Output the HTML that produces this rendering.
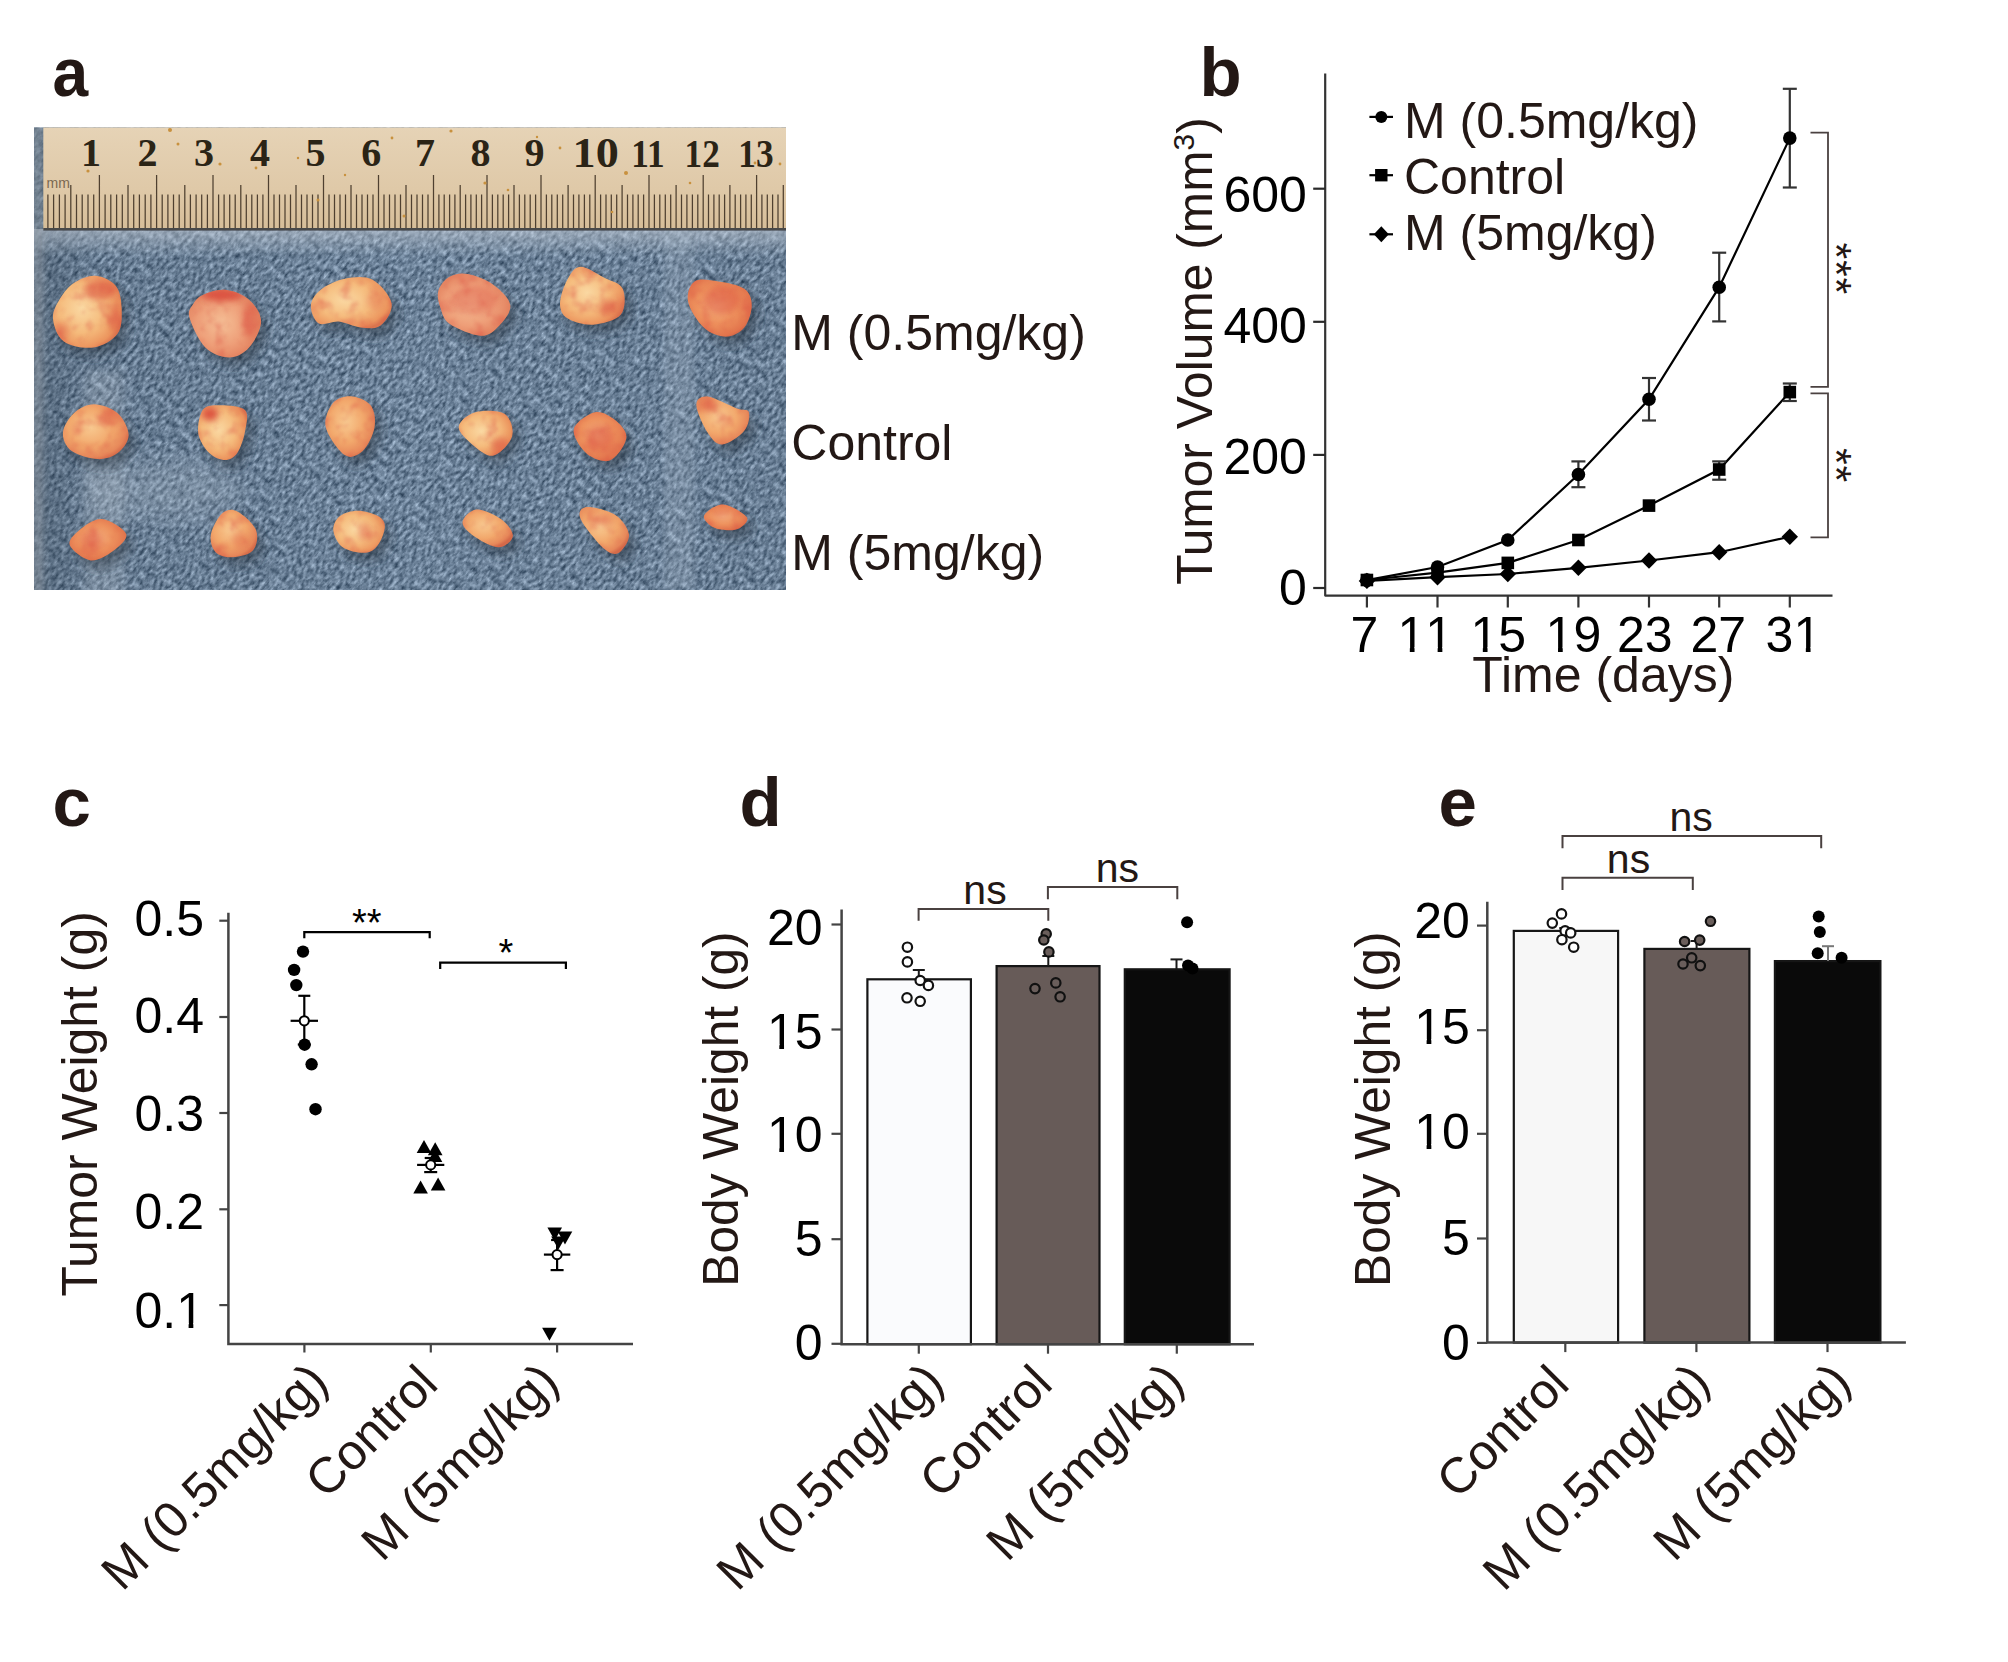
<!DOCTYPE html>
<html><head><meta charset="utf-8"><title>Figure</title>
<style>html,body{margin:0;padding:0;background:#fff;overflow:hidden;width:2008px;height:1662px;} svg{display:block;}</style>
</head><body>
<svg width="2008" height="1662" viewBox="0 0 2008 1662">
<rect width="2008" height="1662" fill="#fff"/>

<defs>
  <linearGradient id="ruler" x1="0" y1="0" x2="0" y2="1">
    <stop offset="0" stop-color="#e6d3b6"/>
    <stop offset="0.6" stop-color="#dfc9a8"/>
    <stop offset="1" stop-color="#d6bd98"/>
  </linearGradient>
  <linearGradient id="clothshade" x1="0" y1="0" x2="1" y2="0">
    <stop offset="0" stop-color="#2c3a48" stop-opacity="0.35"/>
    <stop offset="0.08" stop-color="#2c3a48" stop-opacity="0.08"/>
    <stop offset="0.5" stop-color="#2c3a48" stop-opacity="0"/>
    <stop offset="1" stop-color="#2c3a48" stop-opacity="0.05"/>
  </linearGradient>
  <linearGradient id="toplight" x1="0" y1="0" x2="0" y2="1">
    <stop offset="0" stop-color="#c6ced8" stop-opacity="0.55"/>
    <stop offset="1" stop-color="#c6ced8" stop-opacity="0"/>
  </linearGradient>
  <radialGradient id="tY" cx="0.42" cy="0.45" r="0.62">
    <stop offset="0" stop-color="#fad8a2"/>
    <stop offset="0.55" stop-color="#f5bb7c"/>
    <stop offset="0.88" stop-color="#ec955e"/>
    <stop offset="1" stop-color="#db744e"/>
  </radialGradient>
  <radialGradient id="tO" cx="0.42" cy="0.42" r="0.62">
    <stop offset="0" stop-color="#f8c990"/>
    <stop offset="0.55" stop-color="#f2a86c"/>
    <stop offset="0.88" stop-color="#e7885a"/>
    <stop offset="1" stop-color="#d56c4a"/>
  </radialGradient>
  <radialGradient id="tP" cx="0.45" cy="0.5" r="0.62">
    <stop offset="0" stop-color="#f5bf96"/>
    <stop offset="0.55" stop-color="#ee9e78"/>
    <stop offset="0.88" stop-color="#e3825f"/>
    <stop offset="1" stop-color="#d0664c"/>
  </radialGradient>
  <radialGradient id="tR" cx="0.45" cy="0.45" r="0.62">
    <stop offset="0" stop-color="#f5b482"/>
    <stop offset="0.5" stop-color="#ee925e"/>
    <stop offset="0.88" stop-color="#e2744c"/>
    <stop offset="1" stop-color="#cc5e44"/>
  </radialGradient>
  <filter id="blur3" x="-50%" y="-50%" width="200%" height="200%"><feGaussianBlur stdDeviation="3"/></filter>
  <filter id="blur6" x="-50%" y="-50%" width="200%" height="200%"><feGaussianBlur stdDeviation="6"/></filter>
  <filter id="blur12" x="-50%" y="-50%" width="200%" height="200%"><feGaussianBlur stdDeviation="12"/></filter>
  <filter id="tumtex" x="0" y="0" width="100%" height="100%" color-interpolation-filters="sRGB">
    <feTurbulence type="fractalNoise" baseFrequency="0.07" numOctaves="3" seed="4"/>
    <feColorMatrix type="matrix" values="0 0 0 0 0.86  0 0 0 0 0.33  0 0 0 0 0.27  2.0 0 0 0 -0.98"/>
    <feGaussianBlur stdDeviation="1.3"/>
  </filter>
  <filter id="clothtex" x="0" y="0" width="100%" height="100%" color-interpolation-filters="sRGB">
    <feTurbulence type="fractalNoise" baseFrequency="0.17 0.3" numOctaves="4" seed="11" result="n"/>
    <feColorMatrix in="n" type="matrix" values="0.75 0 0 0 0.05  0.75 0 0 0 0.135  0.75 0 0 0 0.225  0 0 0 0 1"/>
  </filter>
</defs>

<text x="52.5" y="96.3" font-size="69" fill="#231815" text-anchor="start" font-weight="bold" font-family="'Liberation Sans', Arial, sans-serif" transform="translate(52.5 0) scale(0.93 1) translate(-52.5 0)">a</text>
<clipPath id="photoclip"><rect x="34" y="127.5" width="752" height="462.5"/></clipPath>
<g clip-path="url(#photoclip)">
<rect x="34" y="127.5" width="752" height="462.5" fill="#6c819a"/>
<rect x="-200" y="-300" width="1200" height="1200" filter="url(#clothtex)" transform="rotate(-50 410 360)" opacity="0.92"/>
<rect x="34" y="127.5" width="752" height="462.5" fill="url(#clothshade)"/>
<rect x="34" y="229" width="752" height="28" fill="url(#toplight)"/>
<rect x="664" y="232" width="30" height="358" fill="#b4c2d2" opacity="0.2" filter="url(#blur3)"/>
<ellipse cx="165" cy="490" rx="80" ry="30" fill="#c0ccd8" opacity="0.22" filter="url(#blur12)"/>
<rect x="84" y="370" width="40" height="230" fill="#c4ccd4" opacity="0.22" filter="url(#blur6)"/>
<rect x="30" y="120" width="14" height="480" fill="#9aa2aa" opacity="0.45" filter="url(#blur3)"/>
</g>
<rect x="43.3" y="127.5" width="742.7" height="102.5" fill="url(#ruler)"/>
<rect x="43.3" y="228.0" width="742.7" height="2.6" fill="#3a3c40" opacity="0.9"/>
<path d="M47.9,194.5V228M53.6,194.5V228M59.4,194.5V228M65.1,194.5V228M70.8,185.0V228M76.5,194.5V228M82.2,194.5V228M88.0,194.5V228M93.7,194.5V228M99.4,175.0V228M105.1,194.5V228M110.8,194.5V228M116.6,194.5V228M122.3,194.5V228M128.0,185.0V228M133.7,194.5V228M139.4,194.5V228M145.2,194.5V228M150.9,194.5V228M156.6,175.0V228M162.2,194.5V228M167.9,194.5V228M173.5,194.5V228M179.2,194.5V228M184.8,185.0V228M190.4,194.5V228M196.1,194.5V228M201.7,194.5V228M207.4,194.5V228M213.0,175.0V228M218.6,194.5V228M224.1,194.5V228M229.7,194.5V228M235.2,194.5V228M240.8,185.0V228M246.3,194.5V228M251.8,194.5V228M257.4,194.5V228M262.9,194.5V228M268.5,175.0V228M274.0,194.5V228M279.5,194.5V228M285.0,194.5V228M290.5,194.5V228M296.0,185.0V228M301.5,194.5V228M307.0,194.5V228M312.5,194.5V228M318.0,194.5V228M323.5,175.0V228M329.0,194.5V228M334.5,194.5V228M340.0,194.5V228M345.5,194.5V228M351.0,185.0V228M356.5,194.5V228M362.0,194.5V228M367.5,194.5V228M373.0,194.5V228M378.5,175.0V228M384.0,194.5V228M389.5,194.5V228M395.0,194.5V228M400.5,194.5V228M406.0,185.0V228M411.5,194.5V228M417.0,194.5V228M422.5,194.5V228M428.0,194.5V228M433.5,175.0V228M438.9,194.5V228M444.2,194.5V228M449.6,194.5V228M454.9,194.5V228M460.2,185.0V228M465.6,194.5V228M470.9,194.5V228M476.3,194.5V228M481.6,194.5V228M487.0,175.0V228M492.4,194.5V228M497.8,194.5V228M503.2,194.5V228M508.6,194.5V228M514.0,185.0V228M519.4,194.5V228M524.8,194.5V228M530.2,194.5V228M535.6,194.5V228M541.0,175.0V228M546.4,194.5V228M551.8,194.5V228M557.3,194.5V228M562.7,194.5V228M568.1,185.0V228M573.5,194.5V228M578.9,194.5V228M584.4,194.5V228M589.8,194.5V228M595.2,175.0V228M600.6,194.5V228M606.0,194.5V228M611.3,194.5V228M616.7,194.5V228M622.1,185.0V228M627.5,194.5V228M632.9,194.5V228M638.2,194.5V228M643.6,194.5V228M649.0,175.0V228M654.4,194.5V228M659.8,194.5V228M665.3,194.5V228M670.7,194.5V228M676.1,185.0V228M681.5,194.5V228M686.9,194.5V228M692.4,194.5V228M697.8,194.5V228M703.2,175.0V228M708.5,194.5V228M713.9,194.5V228M719.2,194.5V228M724.6,194.5V228M729.9,185.0V228M735.2,194.5V228M740.6,194.5V228M745.9,194.5V228M751.3,194.5V228M756.6,175.0V228M761.9,194.5V228M767.3,194.5V228M772.6,194.5V228M778.0,194.5V228M783.3,185.0V228" stroke="#4f4030" stroke-width="1.25" fill="none"/>
<text x="46.5" y="188.0" font-size="14" fill="#7a6850" text-anchor="start" font-weight="normal" font-family="'Liberation Sans', Arial, sans-serif">mm</text>
<text x="91.0" y="165.6" font-size="40" fill="#2b2416" text-anchor="middle" font-weight="bold" font-family="'Liberation Serif', 'Times New Roman', serif">1</text>
<text x="147.4" y="165.6" font-size="40" fill="#2b2416" text-anchor="middle" font-weight="bold" font-family="'Liberation Serif', 'Times New Roman', serif">2</text>
<text x="204.0" y="165.6" font-size="40" fill="#2b2416" text-anchor="middle" font-weight="bold" font-family="'Liberation Serif', 'Times New Roman', serif">3</text>
<text x="260.0" y="165.6" font-size="40" fill="#2b2416" text-anchor="middle" font-weight="bold" font-family="'Liberation Serif', 'Times New Roman', serif">4</text>
<text x="315.5" y="165.6" font-size="40" fill="#2b2416" text-anchor="middle" font-weight="bold" font-family="'Liberation Serif', 'Times New Roman', serif">5</text>
<text x="371.3" y="165.6" font-size="40" fill="#2b2416" text-anchor="middle" font-weight="bold" font-family="'Liberation Serif', 'Times New Roman', serif">6</text>
<text x="425.0" y="165.6" font-size="40" fill="#2b2416" text-anchor="middle" font-weight="bold" font-family="'Liberation Serif', 'Times New Roman', serif">7</text>
<text x="480.6" y="165.6" font-size="40" fill="#2b2416" text-anchor="middle" font-weight="bold" font-family="'Liberation Serif', 'Times New Roman', serif">8</text>
<text x="534.5" y="165.6" font-size="40" fill="#2b2416" text-anchor="middle" font-weight="bold" font-family="'Liberation Serif', 'Times New Roman', serif">9</text>
<text x="595.7" y="167.0" font-size="42" fill="#2b2416" text-anchor="middle" font-weight="bold" font-family="'Liberation Serif', 'Times New Roman', serif" transform="translate(595.7 0) scale(1.1 1) translate(-595.7 0)">10</text>
<text x="648.0" y="167.0" font-size="41" fill="#2b2416" text-anchor="middle" font-weight="bold" font-family="'Liberation Serif', 'Times New Roman', serif" transform="translate(648.0 0) scale(0.86 1) translate(-648.0 0)">11</text>
<text x="702.2" y="167.0" font-size="41" fill="#2b2416" text-anchor="middle" font-weight="bold" font-family="'Liberation Serif', 'Times New Roman', serif" transform="translate(702.2 0) scale(0.86 1) translate(-702.2 0)">12</text>
<text x="756.0" y="167.0" font-size="41" fill="#2b2416" text-anchor="middle" font-weight="bold" font-family="'Liberation Serif', 'Times New Roman', serif" transform="translate(756.0 0) scale(0.86 1) translate(-756.0 0)">13</text>
<circle cx="88.0" cy="171.0" r="1.6" fill="#c8913e" stroke="none" stroke-width="0"/>
<circle cx="170.0" cy="130.0" r="2.0" fill="#c8913e" stroke="none" stroke-width="0"/>
<circle cx="178.0" cy="144.0" r="1.5" fill="#c8913e" stroke="none" stroke-width="0"/>
<circle cx="220.0" cy="164.0" r="1.6" fill="#c8913e" stroke="none" stroke-width="0"/>
<circle cx="256.0" cy="168.0" r="1.4" fill="#c8913e" stroke="none" stroke-width="0"/>
<circle cx="298.0" cy="158.0" r="1.2" fill="#c8913e" stroke="none" stroke-width="0"/>
<circle cx="318.0" cy="200.0" r="1.5" fill="#c8913e" stroke="none" stroke-width="0"/>
<circle cx="345.0" cy="175.0" r="1.2" fill="#c8913e" stroke="none" stroke-width="0"/>
<circle cx="392.0" cy="138.0" r="1.4" fill="#c8913e" stroke="none" stroke-width="0"/>
<circle cx="451.0" cy="131.0" r="1.6" fill="#c8913e" stroke="none" stroke-width="0"/>
<circle cx="485.0" cy="183.0" r="1.6" fill="#c8913e" stroke="none" stroke-width="0"/>
<circle cx="508.0" cy="190.0" r="1.3" fill="#c8913e" stroke="none" stroke-width="0"/>
<circle cx="537.0" cy="137.0" r="1.2" fill="#c8913e" stroke="none" stroke-width="0"/>
<circle cx="560.0" cy="148.0" r="1.4" fill="#c8913e" stroke="none" stroke-width="0"/>
<circle cx="626.0" cy="173.0" r="2.0" fill="#c8913e" stroke="none" stroke-width="0"/>
<circle cx="690.0" cy="183.0" r="1.3" fill="#c8913e" stroke="none" stroke-width="0"/>
<circle cx="755.0" cy="163.0" r="1.4" fill="#c8913e" stroke="none" stroke-width="0"/>
<circle cx="780.0" cy="164.0" r="1.4" fill="#c8913e" stroke="none" stroke-width="0"/>
<circle cx="612.0" cy="212.0" r="1.3" fill="#c8913e" stroke="none" stroke-width="0"/>
<circle cx="404.0" cy="216.0" r="1.5" fill="#c8913e" stroke="none" stroke-width="0"/>
<path d="M101.8,283.8C108.5,284.5 117.4,288.5 121.7,293.8C126.0,299.1 127.3,307.7 127.6,315.7C127.9,323.7 128.3,335.0 123.7,341.6C119.1,348.2 108.8,354.2 99.8,355.5C90.8,356.8 76.7,354.5 69.9,349.5C63.1,344.5 59.2,333.2 58.9,325.6C58.6,318.0 64.1,309.7 67.9,303.7C71.7,297.7 76.2,293.1 81.8,289.8C87.4,286.5 95.1,283.1 101.8,283.8Z" fill="#27323e" opacity="0.55" filter="url(#blur6)"/>
<path d="M209.3,302.7C214.6,300.4 223.6,297.0 231.2,297.8C238.8,298.6 249.1,302.4 255.1,307.7C261.1,313.0 267.1,321.6 267.1,329.6C267.1,337.6 260.4,349.5 255.1,355.5C249.8,361.5 242.5,365.5 235.2,365.5C227.9,365.5 217.9,362.1 211.3,355.5C204.7,348.9 197.4,332.9 195.4,325.6C193.4,318.3 197.1,315.5 199.4,311.7C201.7,307.9 204.0,305.0 209.3,302.7Z" fill="#27323e" opacity="0.55" filter="url(#blur6)"/>
<path d="M316.9,313.7C317.2,308.1 321.1,302.3 326.8,297.8C332.5,293.3 342.2,288.5 350.8,286.8C359.4,285.1 370.8,283.7 378.6,287.8C386.4,291.9 396.3,304.1 397.6,311.7C398.9,319.3 391.8,329.6 386.6,333.6C381.5,337.6 373.7,336.3 366.7,335.6C359.7,334.9 351.8,330.3 344.8,329.6C337.8,328.9 329.5,334.2 324.9,331.6C320.2,329.0 316.6,319.3 316.9,313.7Z" fill="#27323e" opacity="0.55" filter="url(#blur6)"/>
<path d="M444.4,298.6C445.9,293.5 450.6,287.6 455.5,284.8C460.4,282.1 466.5,280.7 473.9,282.1C481.3,283.5 492.6,287.9 499.7,293.1C506.8,298.3 515.4,306.6 516.3,313.4C517.2,320.2 510.1,328.6 505.2,333.7C500.3,338.8 495.1,344.1 486.8,343.8C478.5,343.5 462.2,336.6 455.5,331.8C448.8,327.0 448.2,320.7 446.3,315.2C444.4,309.7 442.9,303.7 444.4,298.6Z" fill="#27323e" opacity="0.55" filter="url(#blur6)"/>
<path d="M566.0,311.5C566.0,305.1 570.0,293.7 573.4,287.6C576.8,281.5 580.1,275.0 586.3,274.7C592.4,274.4 603.2,282.1 610.3,285.8C617.4,289.5 625.9,290.7 628.7,296.8C631.5,302.9 631.8,316.6 626.9,322.6C622.0,328.6 608.1,332.1 599.2,332.7C590.3,333.3 578.9,329.8 573.4,326.3C567.9,322.8 566.0,317.9 566.0,311.5Z" fill="#27323e" opacity="0.55" filter="url(#blur6)"/>
<path d="M694.1,309.7C692.6,302.0 695.5,292.8 700.6,289.4C705.7,286.0 716.2,288.2 724.5,289.4C732.8,290.6 744.8,292.8 750.3,296.8C755.8,300.8 757.7,306.9 757.7,313.4C757.7,319.8 754.6,330.3 750.3,335.5C746.0,340.7 738.6,344.7 731.9,344.7C725.1,344.7 716.1,341.3 709.8,335.5C703.5,329.7 695.6,317.4 694.1,309.7Z" fill="#27323e" opacity="0.55" filter="url(#blur6)"/>
<path d="M99.8,412.3C107.1,412.3 117.9,416.2 123.7,421.3C129.5,426.4 134.6,436.6 134.6,443.2C134.6,449.8 128.8,457.1 123.7,461.1C118.6,465.1 111.4,467.4 103.7,467.1C96.0,466.8 83.6,463.4 77.8,459.1C72.0,454.8 68.6,447.5 68.9,441.2C69.2,434.9 74.7,426.1 79.8,421.3C84.9,416.5 92.5,412.3 99.8,412.3Z" fill="#27323e" opacity="0.55" filter="url(#blur6)"/>
<path d="M209.3,417.3C213.1,412.7 220.2,413.1 227.2,413.3C234.2,413.5 247.1,414.0 251.1,418.3C255.1,422.6 252.4,432.1 251.1,439.2C249.8,446.3 246.5,456.3 243.2,461.1C239.9,465.9 235.8,468.1 231.2,468.1C226.5,468.1 219.8,465.6 215.3,461.1C210.8,456.6 205.3,448.5 204.3,441.2C203.3,433.9 205.5,421.9 209.3,417.3Z" fill="#27323e" opacity="0.55" filter="url(#blur6)"/>
<path d="M356.7,404.3C363.0,404.6 372.6,408.2 376.6,413.3C380.6,418.4 381.9,427.6 380.6,435.2C379.3,442.8 373.7,454.5 368.7,459.1C363.7,463.8 356.9,467.1 350.8,463.1C344.7,459.1 333.8,443.8 331.8,435.2C329.8,426.6 334.7,416.4 338.8,411.3C342.9,406.2 350.4,404.0 356.7,404.3Z" fill="#27323e" opacity="0.55" filter="url(#blur6)"/>
<path d="M464.7,435.0C465.0,429.5 473.6,422.4 481.3,420.3C489.0,418.2 504.7,418.1 510.8,422.1C516.9,426.1 520.0,437.3 518.1,444.2C516.2,451.1 506.1,462.1 499.7,463.6C493.2,465.1 485.2,458.2 479.4,453.4C473.6,448.6 464.4,440.5 464.7,435.0Z" fill="#27323e" opacity="0.55" filter="url(#blur6)"/>
<path d="M579.9,436.9C581.6,430.3 594.1,421.8 601.0,420.3C607.9,418.8 615.8,424.0 621.0,428.0C626.2,432.0 632.1,438.4 632.4,444.2C632.7,450.0 626.7,458.9 623.0,463.0C619.3,467.1 615.6,469.6 610.3,469.1C605.0,468.6 596.1,465.4 591.0,460.0C585.9,454.6 578.2,443.5 579.9,436.9Z" fill="#27323e" opacity="0.55" filter="url(#blur6)"/>
<path d="M702.4,412.9C702.4,406.9 706.8,404.0 713.5,404.6C720.2,405.2 736.0,414.0 742.9,416.6C749.8,419.2 753.7,416.6 754.9,420.3C756.1,424.0 754.8,433.3 750.3,438.7C745.8,444.1 734.3,452.2 728.2,452.5C722.1,452.8 717.8,447.1 713.5,440.5C709.2,433.9 702.4,418.9 702.4,412.9Z" fill="#27323e" opacity="0.55" filter="url(#blur6)"/>
<path d="M75.8,553.3C73.9,548.3 79.9,542.6 85.2,538.2C90.5,533.8 100.0,526.4 107.8,527.0C115.6,527.6 130.3,536.7 132.2,542.0C134.1,547.3 125.0,554.6 119.1,559.0C113.1,563.4 103.7,569.4 96.5,568.4C89.3,567.4 77.7,558.3 75.8,553.3Z" fill="#27323e" opacity="0.55" filter="url(#blur6)"/>
<path d="M217.0,542.0C218.3,535.7 223.9,525.1 228.3,521.3C232.7,517.5 237.7,516.6 243.3,519.4C248.9,522.2 259.6,531.6 262.1,538.2C264.6,544.8 262.8,554.5 258.4,559.0C254.0,563.5 242.1,565.3 235.8,565.3C229.5,565.3 223.8,562.9 220.7,559.0C217.6,555.1 215.7,548.3 217.0,542.0Z" fill="#27323e" opacity="0.55" filter="url(#blur6)"/>
<path d="M339.3,538.2C338.9,533.0 341.9,527.2 346.0,524.0C350.1,520.8 357.5,518.7 363.8,518.7C370.1,518.7 379.5,521.4 384.0,524.0C388.5,526.6 390.9,529.7 390.9,534.5C390.9,539.3 387.3,548.6 384.0,553.0C380.7,557.4 377.2,560.4 371.3,560.8C365.4,561.2 354.0,559.0 348.7,555.2C343.4,551.4 339.8,543.4 339.3,538.2Z" fill="#27323e" opacity="0.55" filter="url(#blur6)"/>
<path d="M468.5,530.7C468.5,526.0 476.0,518.1 482.4,517.5C488.8,516.9 500.8,522.6 506.9,527.0C513.0,531.4 519.2,539.2 518.9,543.9C518.6,548.6 511.1,554.9 505.0,555.2C498.9,555.5 488.5,549.9 482.4,545.8C476.3,541.7 468.5,535.4 468.5,530.7Z" fill="#27323e" opacity="0.55" filter="url(#blur6)"/>
<path d="M585.9,525.1C584.3,519.3 587.5,515.2 593.5,514.9C599.5,514.6 614.8,518.7 621.7,523.2C628.6,527.7 633.9,536.2 634.9,542.0C635.9,547.8 630.8,554.7 628.0,558.0C625.2,561.3 622.2,563.0 618.0,561.6C613.8,560.2 608.2,555.6 602.9,549.5C597.5,543.4 587.5,530.9 585.9,525.1Z" fill="#27323e" opacity="0.55" filter="url(#blur6)"/>
<path d="M710.2,523.2C712.1,519.6 721.9,512.3 729.0,512.6C736.1,512.9 749.9,521.2 752.7,525.1C755.5,529.0 749.3,533.8 746.0,536.0C742.7,538.2 737.5,538.5 732.8,538.2C728.1,538.0 721.5,537.0 717.7,534.5C713.9,532.0 708.3,526.9 710.2,523.2Z" fill="#27323e" opacity="0.55" filter="url(#blur6)"/>
<clipPath id="tc0"><path d="M95.8,275.8C102.5,276.5 111.4,280.5 115.7,285.8C120.0,291.1 121.3,299.7 121.6,307.7C121.9,315.7 122.3,327.0 117.7,333.6C113.1,340.2 102.8,346.2 93.8,347.5C84.8,348.8 70.7,346.5 63.9,341.5C57.1,336.5 53.2,325.2 52.9,317.6C52.6,310.0 58.1,301.7 61.9,295.7C65.7,289.7 70.1,285.1 75.8,281.8C81.5,278.5 89.1,275.1 95.8,275.8Z"/></clipPath>
<path d="M95.8,275.8C102.5,276.5 111.4,280.5 115.7,285.8C120.0,291.1 121.3,299.7 121.6,307.7C121.9,315.7 122.3,327.0 117.7,333.6C113.1,340.2 102.8,346.2 93.8,347.5C84.8,348.8 70.7,346.5 63.9,341.5C57.1,336.5 53.2,325.2 52.9,317.6C52.6,310.0 58.1,301.7 61.9,295.7C65.7,289.7 70.1,285.1 75.8,281.8C81.5,278.5 89.1,275.1 95.8,275.8Z" fill="url(#tY)"/>
<g clip-path="url(#tc0)"><ellipse cx="100" cy="290" rx="16" ry="10" fill="#d9483a" opacity="0.55" filter="url(#blur3)"/><ellipse cx="115" cy="318" rx="6" ry="14" fill="#d9483a" opacity="0.45" filter="url(#blur3)"/><ellipse cx="62" cy="330" rx="8" ry="8" fill="#d9483a" opacity="0.35" filter="url(#blur3)"/></g>
<clipPath id="tc1"><path d="M203.3,294.7C208.6,292.4 217.6,289.0 225.2,289.8C232.8,290.6 243.1,294.4 249.1,299.7C255.1,305.0 261.1,313.6 261.1,321.6C261.1,329.6 254.4,341.5 249.1,347.5C243.8,353.5 236.5,357.5 229.2,357.5C221.9,357.5 211.9,354.1 205.3,347.5C198.7,340.9 191.4,324.9 189.4,317.6C187.4,310.3 191.1,307.5 193.4,303.7C195.7,299.9 198.0,297.0 203.3,294.7Z"/></clipPath>
<path d="M203.3,294.7C208.6,292.4 217.6,289.0 225.2,289.8C232.8,290.6 243.1,294.4 249.1,299.7C255.1,305.0 261.1,313.6 261.1,321.6C261.1,329.6 254.4,341.5 249.1,347.5C243.8,353.5 236.5,357.5 229.2,357.5C221.9,357.5 211.9,354.1 205.3,347.5C198.7,340.9 191.4,324.9 189.4,317.6C187.4,310.3 191.1,307.5 193.4,303.7C195.7,299.9 198.0,297.0 203.3,294.7Z" fill="url(#tP)"/>
<g clip-path="url(#tc1)"><ellipse cx="222" cy="295" rx="20" ry="6" fill="#d9483a" opacity="0.85" filter="url(#blur3)"/><ellipse cx="250" cy="320" rx="8" ry="18" fill="#d9483a" opacity="0.4" filter="url(#blur3)"/></g>
<clipPath id="tc2"><path d="M310.9,305.7C311.2,300.1 315.1,294.3 320.8,289.8C326.5,285.3 336.2,280.5 344.8,278.8C353.4,277.1 364.8,275.7 372.6,279.8C380.4,283.9 390.3,296.1 391.6,303.7C392.9,311.3 385.8,321.6 380.6,325.6C375.5,329.6 367.7,328.3 360.7,327.6C353.7,326.9 345.8,322.3 338.8,321.6C331.8,320.9 323.5,326.2 318.9,323.6C314.2,321.0 310.6,311.3 310.9,305.7Z"/></clipPath>
<path d="M310.9,305.7C311.2,300.1 315.1,294.3 320.8,289.8C326.5,285.3 336.2,280.5 344.8,278.8C353.4,277.1 364.8,275.7 372.6,279.8C380.4,283.9 390.3,296.1 391.6,303.7C392.9,311.3 385.8,321.6 380.6,325.6C375.5,329.6 367.7,328.3 360.7,327.6C353.7,326.9 345.8,322.3 338.8,321.6C331.8,320.9 323.5,326.2 318.9,323.6C314.2,321.0 310.6,311.3 310.9,305.7Z" fill="url(#tY)"/>
<g clip-path="url(#tc2)"><ellipse cx="375" cy="300" rx="8" ry="10" fill="#d9483a" opacity="0.25" filter="url(#blur3)"/></g>
<clipPath id="tc3"><path d="M438.4,290.6C439.9,285.5 444.6,279.6 449.5,276.8C454.4,274.1 460.5,272.7 467.9,274.1C475.3,275.5 486.6,279.9 493.7,285.1C500.8,290.3 509.4,298.6 510.3,305.4C511.2,312.2 504.1,320.6 499.2,325.7C494.3,330.8 489.1,336.1 480.8,335.8C472.5,335.5 456.2,328.6 449.5,323.8C442.8,319.0 442.2,312.7 440.3,307.2C438.4,301.7 436.9,295.7 438.4,290.6Z"/></clipPath>
<path d="M438.4,290.6C439.9,285.5 444.6,279.6 449.5,276.8C454.4,274.1 460.5,272.7 467.9,274.1C475.3,275.5 486.6,279.9 493.7,285.1C500.8,290.3 509.4,298.6 510.3,305.4C511.2,312.2 504.1,320.6 499.2,325.7C494.3,330.8 489.1,336.1 480.8,335.8C472.5,335.5 456.2,328.6 449.5,323.8C442.8,319.0 442.2,312.7 440.3,307.2C438.4,301.7 436.9,295.7 438.4,290.6Z" fill="url(#tP)"/>
<g clip-path="url(#tc3)"><ellipse cx="475" cy="300" rx="22" ry="14" fill="#d9483a" opacity="0.35" filter="url(#blur3)"/></g>
<clipPath id="tc4"><path d="M560.0,303.5C560.0,297.1 564.0,285.7 567.4,279.6C570.8,273.5 574.1,267.0 580.3,266.7C586.4,266.4 597.2,274.1 604.3,277.8C611.4,281.5 619.9,282.7 622.7,288.8C625.5,294.9 625.8,308.6 620.9,314.6C616.0,320.6 602.1,324.1 593.2,324.7C584.3,325.3 572.9,321.8 567.4,318.3C561.9,314.8 560.0,309.9 560.0,303.5Z"/></clipPath>
<path d="M560.0,303.5C560.0,297.1 564.0,285.7 567.4,279.6C570.8,273.5 574.1,267.0 580.3,266.7C586.4,266.4 597.2,274.1 604.3,277.8C611.4,281.5 619.9,282.7 622.7,288.8C625.5,294.9 625.8,308.6 620.9,314.6C616.0,320.6 602.1,324.1 593.2,324.7C584.3,325.3 572.9,321.8 567.4,318.3C561.9,314.8 560.0,309.9 560.0,303.5Z" fill="url(#tY)"/>
<g clip-path="url(#tc4)"><ellipse cx="608" cy="307" rx="9" ry="8" fill="#d9483a" opacity="0.45" filter="url(#blur3)"/><ellipse cx="590" cy="270" rx="8" ry="4" fill="#d9483a" opacity="0.4" filter="url(#blur3)"/></g>
<clipPath id="tc5"><path d="M688.1,301.7C686.6,294.0 689.5,284.8 694.6,281.4C699.7,278.0 710.2,280.2 718.5,281.4C726.8,282.6 738.8,284.8 744.3,288.8C749.8,292.8 751.7,298.9 751.7,305.4C751.7,311.8 748.6,322.3 744.3,327.5C740.0,332.7 732.6,336.7 725.9,336.7C719.1,336.7 710.1,333.3 703.8,327.5C697.5,321.7 689.6,309.4 688.1,301.7Z"/></clipPath>
<path d="M688.1,301.7C686.6,294.0 689.5,284.8 694.6,281.4C699.7,278.0 710.2,280.2 718.5,281.4C726.8,282.6 738.8,284.8 744.3,288.8C749.8,292.8 751.7,298.9 751.7,305.4C751.7,311.8 748.6,322.3 744.3,327.5C740.0,332.7 732.6,336.7 725.9,336.7C719.1,336.7 710.1,333.3 703.8,327.5C697.5,321.7 689.6,309.4 688.1,301.7Z" fill="url(#tR)"/>
<g clip-path="url(#tc5)"><ellipse cx="722" cy="300" rx="18" ry="14" fill="#d9483a" opacity="0.45" filter="url(#blur3)"/></g>
<clipPath id="tc6"><path d="M93.8,404.3C101.1,404.3 111.9,408.2 117.7,413.3C123.5,418.4 128.6,428.6 128.6,435.2C128.6,441.8 122.8,449.1 117.7,453.1C112.6,457.1 105.4,459.4 97.7,459.1C90.0,458.8 77.6,455.4 71.8,451.1C66.0,446.8 62.6,439.5 62.9,433.2C63.2,426.9 68.6,418.1 73.8,413.3C79.0,408.5 86.5,404.3 93.8,404.3Z"/></clipPath>
<path d="M93.8,404.3C101.1,404.3 111.9,408.2 117.7,413.3C123.5,418.4 128.6,428.6 128.6,435.2C128.6,441.8 122.8,449.1 117.7,453.1C112.6,457.1 105.4,459.4 97.7,459.1C90.0,458.8 77.6,455.4 71.8,451.1C66.0,446.8 62.6,439.5 62.9,433.2C63.2,426.9 68.6,418.1 73.8,413.3C79.0,408.5 86.5,404.3 93.8,404.3Z" fill="url(#tO)"/>
<g clip-path="url(#tc6)"><ellipse cx="110" cy="415" rx="10" ry="8" fill="#d9483a" opacity="0.4" filter="url(#blur3)"/></g>
<clipPath id="tc7"><path d="M203.3,409.3C207.1,404.7 214.2,405.1 221.2,405.3C228.2,405.5 241.1,406.0 245.1,410.3C249.1,414.6 246.4,424.1 245.1,431.2C243.8,438.3 240.5,448.3 237.2,453.1C233.9,457.9 229.8,460.1 225.2,460.1C220.5,460.1 213.8,457.6 209.3,453.1C204.8,448.6 199.3,440.5 198.3,433.2C197.3,425.9 199.5,413.9 203.3,409.3Z"/></clipPath>
<path d="M203.3,409.3C207.1,404.7 214.2,405.1 221.2,405.3C228.2,405.5 241.1,406.0 245.1,410.3C249.1,414.6 246.4,424.1 245.1,431.2C243.8,438.3 240.5,448.3 237.2,453.1C233.9,457.9 229.8,460.1 225.2,460.1C220.5,460.1 213.8,457.6 209.3,453.1C204.8,448.6 199.3,440.5 198.3,433.2C197.3,425.9 199.5,413.9 203.3,409.3Z" fill="url(#tY)"/>
<g clip-path="url(#tc7)"><ellipse cx="210" cy="414" rx="8" ry="7" fill="#d9483a" opacity="0.9" filter="url(#blur3)"/></g>
<clipPath id="tc8"><path d="M350.7,396.3C357.0,396.6 366.6,400.2 370.6,405.3C374.6,410.4 375.9,419.6 374.6,427.2C373.3,434.8 367.7,446.5 362.7,451.1C357.7,455.8 350.9,459.1 344.8,455.1C338.7,451.1 327.8,435.8 325.8,427.2C323.8,418.6 328.7,408.4 332.8,403.3C336.9,398.2 344.4,396.0 350.7,396.3Z"/></clipPath>
<path d="M350.7,396.3C357.0,396.6 366.6,400.2 370.6,405.3C374.6,410.4 375.9,419.6 374.6,427.2C373.3,434.8 367.7,446.5 362.7,451.1C357.7,455.8 350.9,459.1 344.8,455.1C338.7,451.1 327.8,435.8 325.8,427.2C323.8,418.6 328.7,408.4 332.8,403.3C336.9,398.2 344.4,396.0 350.7,396.3Z" fill="url(#tO)"/>
<clipPath id="tc9"><path d="M458.7,427.0C459.0,421.5 467.6,414.4 475.3,412.3C483.0,410.2 498.7,410.1 504.8,414.1C510.9,418.1 514.0,429.3 512.1,436.2C510.2,443.1 500.1,454.1 493.7,455.6C487.2,457.1 479.2,450.2 473.4,445.4C467.6,440.6 458.4,432.5 458.7,427.0Z"/></clipPath>
<path d="M458.7,427.0C459.0,421.5 467.6,414.4 475.3,412.3C483.0,410.2 498.7,410.1 504.8,414.1C510.9,418.1 514.0,429.3 512.1,436.2C510.2,443.1 500.1,454.1 493.7,455.6C487.2,457.1 479.2,450.2 473.4,445.4C467.6,440.6 458.4,432.5 458.7,427.0Z" fill="url(#tY)"/>
<g clip-path="url(#tc9)"><ellipse cx="500" cy="445" rx="9" ry="8" fill="#d9483a" opacity="0.5" filter="url(#blur3)"/></g>
<clipPath id="tc10"><path d="M573.9,428.9C575.6,422.3 588.1,413.8 595.0,412.3C601.9,410.8 609.8,416.0 615.0,420.0C620.2,424.0 626.1,430.4 626.4,436.2C626.7,442.0 620.7,450.9 617.0,455.0C613.3,459.1 609.6,461.6 604.3,461.1C599.0,460.6 590.1,457.4 585.0,452.0C579.9,446.6 572.2,435.5 573.9,428.9Z"/></clipPath>
<path d="M573.9,428.9C575.6,422.3 588.1,413.8 595.0,412.3C601.9,410.8 609.8,416.0 615.0,420.0C620.2,424.0 626.1,430.4 626.4,436.2C626.7,442.0 620.7,450.9 617.0,455.0C613.3,459.1 609.6,461.6 604.3,461.1C599.0,460.6 590.1,457.4 585.0,452.0C579.9,446.6 572.2,435.5 573.9,428.9Z" fill="url(#tR)"/>
<g clip-path="url(#tc10)"><ellipse cx="600" cy="438" rx="14" ry="12" fill="#d9483a" opacity="0.45" filter="url(#blur3)"/></g>
<clipPath id="tc11"><path d="M696.4,404.9C696.4,398.9 700.8,396.0 707.5,396.6C714.2,397.2 730.0,406.0 736.9,408.6C743.8,411.2 747.7,408.6 748.9,412.3C750.1,416.0 748.8,425.3 744.3,430.7C739.8,436.1 728.3,444.2 722.2,444.5C716.1,444.8 711.8,439.1 707.5,432.5C703.2,425.9 696.4,410.9 696.4,404.9Z"/></clipPath>
<path d="M696.4,404.9C696.4,398.9 700.8,396.0 707.5,396.6C714.2,397.2 730.0,406.0 736.9,408.6C743.8,411.2 747.7,408.6 748.9,412.3C750.1,416.0 748.8,425.3 744.3,430.7C739.8,436.1 728.3,444.2 722.2,444.5C716.1,444.8 711.8,439.1 707.5,432.5C703.2,425.9 696.4,410.9 696.4,404.9Z" fill="url(#tO)"/>
<g clip-path="url(#tc11)"><ellipse cx="708" cy="405" rx="9" ry="7" fill="#d9483a" opacity="0.5" filter="url(#blur3)"/></g>
<clipPath id="tc12"><path d="M69.8,545.3C67.9,540.3 73.9,534.6 79.2,530.2C84.5,525.8 94.0,518.4 101.8,519.0C109.6,519.6 124.3,528.7 126.2,534.0C128.1,539.3 119.0,546.6 113.1,551.0C107.1,555.4 97.7,561.4 90.5,560.4C83.3,559.4 71.7,550.3 69.8,545.3Z"/></clipPath>
<path d="M69.8,545.3C67.9,540.3 73.9,534.6 79.2,530.2C84.5,525.8 94.0,518.4 101.8,519.0C109.6,519.6 124.3,528.7 126.2,534.0C128.1,539.3 119.0,546.6 113.1,551.0C107.1,555.4 97.7,561.4 90.5,560.4C83.3,559.4 71.7,550.3 69.8,545.3Z" fill="url(#tR)"/>
<g clip-path="url(#tc12)"><ellipse cx="92" cy="540" rx="10" ry="9" fill="#d9483a" opacity="0.45" filter="url(#blur3)"/></g>
<clipPath id="tc13"><path d="M211.0,534.0C212.3,527.7 217.9,517.1 222.3,513.3C226.7,509.5 231.7,508.6 237.3,511.4C242.9,514.2 253.6,523.6 256.1,530.2C258.6,536.8 256.8,546.5 252.4,551.0C248.0,555.5 236.1,557.3 229.8,557.3C223.5,557.3 217.8,554.9 214.7,551.0C211.6,547.1 209.7,540.3 211.0,534.0Z"/></clipPath>
<path d="M211.0,534.0C212.3,527.7 217.9,517.1 222.3,513.3C226.7,509.5 231.7,508.6 237.3,511.4C242.9,514.2 253.6,523.6 256.1,530.2C258.6,536.8 256.8,546.5 252.4,551.0C248.0,555.5 236.1,557.3 229.8,557.3C223.5,557.3 217.8,554.9 214.7,551.0C211.6,547.1 209.7,540.3 211.0,534.0Z" fill="url(#tO)"/>
<g clip-path="url(#tc13)"><ellipse cx="240" cy="540" rx="8" ry="8" fill="#d9483a" opacity="0.3" filter="url(#blur3)"/></g>
<clipPath id="tc14"><path d="M333.3,530.2C332.9,525.0 335.9,519.2 340.0,516.0C344.1,512.8 351.5,510.7 357.8,510.7C364.1,510.7 373.5,513.4 378.0,516.0C382.5,518.6 384.9,521.7 384.9,526.5C384.9,531.3 381.3,540.6 378.0,545.0C374.7,549.4 371.2,552.4 365.3,552.8C359.4,553.2 348.0,551.0 342.7,547.2C337.4,543.4 333.8,535.4 333.3,530.2Z"/></clipPath>
<path d="M333.3,530.2C332.9,525.0 335.9,519.2 340.0,516.0C344.1,512.8 351.5,510.7 357.8,510.7C364.1,510.7 373.5,513.4 378.0,516.0C382.5,518.6 384.9,521.7 384.9,526.5C384.9,531.3 381.3,540.6 378.0,545.0C374.7,549.4 371.2,552.4 365.3,552.8C359.4,553.2 348.0,551.0 342.7,547.2C337.4,543.4 333.8,535.4 333.3,530.2Z" fill="url(#tY)"/>
<g clip-path="url(#tc14)"><ellipse cx="365" cy="532" rx="6" ry="9" fill="#d9483a" opacity="0.4" filter="url(#blur3)"/></g>
<clipPath id="tc15"><path d="M462.5,522.7C462.5,518.0 470.0,510.1 476.4,509.5C482.8,508.9 494.8,514.6 500.9,519.0C507.0,523.4 513.2,531.2 512.9,535.9C512.6,540.6 505.1,546.9 499.0,547.2C492.9,547.5 482.5,541.9 476.4,537.8C470.3,533.7 462.5,527.4 462.5,522.7Z"/></clipPath>
<path d="M462.5,522.7C462.5,518.0 470.0,510.1 476.4,509.5C482.8,508.9 494.8,514.6 500.9,519.0C507.0,523.4 513.2,531.2 512.9,535.9C512.6,540.6 505.1,546.9 499.0,547.2C492.9,547.5 482.5,541.9 476.4,537.8C470.3,533.7 462.5,527.4 462.5,522.7Z" fill="url(#tO)"/>
<clipPath id="tc16"><path d="M579.9,517.1C578.3,511.3 581.5,507.2 587.5,506.9C593.5,506.6 608.8,510.7 615.7,515.2C622.6,519.7 627.9,528.2 628.9,534.0C629.9,539.8 624.8,546.7 622.0,550.0C619.2,553.3 616.2,555.0 612.0,553.6C607.8,552.2 602.2,547.6 596.9,541.5C591.5,535.4 581.5,522.9 579.9,517.1Z"/></clipPath>
<path d="M579.9,517.1C578.3,511.3 581.5,507.2 587.5,506.9C593.5,506.6 608.8,510.7 615.7,515.2C622.6,519.7 627.9,528.2 628.9,534.0C629.9,539.8 624.8,546.7 622.0,550.0C619.2,553.3 616.2,555.0 612.0,553.6C607.8,552.2 602.2,547.6 596.9,541.5C591.5,535.4 581.5,522.9 579.9,517.1Z" fill="url(#tO)"/>
<g clip-path="url(#tc16)"><ellipse cx="605" cy="520" rx="8" ry="6" fill="#d9483a" opacity="0.35" filter="url(#blur3)"/></g>
<clipPath id="tc17"><path d="M704.2,515.2C706.1,511.6 715.9,504.3 723.0,504.6C730.1,504.9 743.9,513.2 746.7,517.1C749.5,521.0 743.3,525.8 740.0,528.0C736.7,530.2 731.5,530.5 726.8,530.2C722.1,530.0 715.5,529.0 711.7,526.5C707.9,524.0 702.3,518.9 704.2,515.2Z"/></clipPath>
<path d="M704.2,515.2C706.1,511.6 715.9,504.3 723.0,504.6C730.1,504.9 743.9,513.2 746.7,517.1C749.5,521.0 743.3,525.8 740.0,528.0C736.7,530.2 731.5,530.5 726.8,530.2C722.1,530.0 715.5,529.0 711.7,526.5C707.9,524.0 702.3,518.9 704.2,515.2Z" fill="url(#tR)"/>
<g clip-path="url(#tc17)"><ellipse cx="722" cy="513" rx="8" ry="5" fill="#d9483a" opacity="0.3" filter="url(#blur3)"/></g>
<clipPath id="alltum"><path d="M95.8,275.8C102.5,276.5 111.4,280.5 115.7,285.8C120.0,291.1 121.3,299.7 121.6,307.7C121.9,315.7 122.3,327.0 117.7,333.6C113.1,340.2 102.8,346.2 93.8,347.5C84.8,348.8 70.7,346.5 63.9,341.5C57.1,336.5 53.2,325.2 52.9,317.6C52.6,310.0 58.1,301.7 61.9,295.7C65.7,289.7 70.1,285.1 75.8,281.8C81.5,278.5 89.1,275.1 95.8,275.8Z"/><path d="M203.3,294.7C208.6,292.4 217.6,289.0 225.2,289.8C232.8,290.6 243.1,294.4 249.1,299.7C255.1,305.0 261.1,313.6 261.1,321.6C261.1,329.6 254.4,341.5 249.1,347.5C243.8,353.5 236.5,357.5 229.2,357.5C221.9,357.5 211.9,354.1 205.3,347.5C198.7,340.9 191.4,324.9 189.4,317.6C187.4,310.3 191.1,307.5 193.4,303.7C195.7,299.9 198.0,297.0 203.3,294.7Z"/><path d="M310.9,305.7C311.2,300.1 315.1,294.3 320.8,289.8C326.5,285.3 336.2,280.5 344.8,278.8C353.4,277.1 364.8,275.7 372.6,279.8C380.4,283.9 390.3,296.1 391.6,303.7C392.9,311.3 385.8,321.6 380.6,325.6C375.5,329.6 367.7,328.3 360.7,327.6C353.7,326.9 345.8,322.3 338.8,321.6C331.8,320.9 323.5,326.2 318.9,323.6C314.2,321.0 310.6,311.3 310.9,305.7Z"/><path d="M438.4,290.6C439.9,285.5 444.6,279.6 449.5,276.8C454.4,274.1 460.5,272.7 467.9,274.1C475.3,275.5 486.6,279.9 493.7,285.1C500.8,290.3 509.4,298.6 510.3,305.4C511.2,312.2 504.1,320.6 499.2,325.7C494.3,330.8 489.1,336.1 480.8,335.8C472.5,335.5 456.2,328.6 449.5,323.8C442.8,319.0 442.2,312.7 440.3,307.2C438.4,301.7 436.9,295.7 438.4,290.6Z"/><path d="M560.0,303.5C560.0,297.1 564.0,285.7 567.4,279.6C570.8,273.5 574.1,267.0 580.3,266.7C586.4,266.4 597.2,274.1 604.3,277.8C611.4,281.5 619.9,282.7 622.7,288.8C625.5,294.9 625.8,308.6 620.9,314.6C616.0,320.6 602.1,324.1 593.2,324.7C584.3,325.3 572.9,321.8 567.4,318.3C561.9,314.8 560.0,309.9 560.0,303.5Z"/><path d="M688.1,301.7C686.6,294.0 689.5,284.8 694.6,281.4C699.7,278.0 710.2,280.2 718.5,281.4C726.8,282.6 738.8,284.8 744.3,288.8C749.8,292.8 751.7,298.9 751.7,305.4C751.7,311.8 748.6,322.3 744.3,327.5C740.0,332.7 732.6,336.7 725.9,336.7C719.1,336.7 710.1,333.3 703.8,327.5C697.5,321.7 689.6,309.4 688.1,301.7Z"/><path d="M93.8,404.3C101.1,404.3 111.9,408.2 117.7,413.3C123.5,418.4 128.6,428.6 128.6,435.2C128.6,441.8 122.8,449.1 117.7,453.1C112.6,457.1 105.4,459.4 97.7,459.1C90.0,458.8 77.6,455.4 71.8,451.1C66.0,446.8 62.6,439.5 62.9,433.2C63.2,426.9 68.6,418.1 73.8,413.3C79.0,408.5 86.5,404.3 93.8,404.3Z"/><path d="M203.3,409.3C207.1,404.7 214.2,405.1 221.2,405.3C228.2,405.5 241.1,406.0 245.1,410.3C249.1,414.6 246.4,424.1 245.1,431.2C243.8,438.3 240.5,448.3 237.2,453.1C233.9,457.9 229.8,460.1 225.2,460.1C220.5,460.1 213.8,457.6 209.3,453.1C204.8,448.6 199.3,440.5 198.3,433.2C197.3,425.9 199.5,413.9 203.3,409.3Z"/><path d="M350.7,396.3C357.0,396.6 366.6,400.2 370.6,405.3C374.6,410.4 375.9,419.6 374.6,427.2C373.3,434.8 367.7,446.5 362.7,451.1C357.7,455.8 350.9,459.1 344.8,455.1C338.7,451.1 327.8,435.8 325.8,427.2C323.8,418.6 328.7,408.4 332.8,403.3C336.9,398.2 344.4,396.0 350.7,396.3Z"/><path d="M458.7,427.0C459.0,421.5 467.6,414.4 475.3,412.3C483.0,410.2 498.7,410.1 504.8,414.1C510.9,418.1 514.0,429.3 512.1,436.2C510.2,443.1 500.1,454.1 493.7,455.6C487.2,457.1 479.2,450.2 473.4,445.4C467.6,440.6 458.4,432.5 458.7,427.0Z"/><path d="M573.9,428.9C575.6,422.3 588.1,413.8 595.0,412.3C601.9,410.8 609.8,416.0 615.0,420.0C620.2,424.0 626.1,430.4 626.4,436.2C626.7,442.0 620.7,450.9 617.0,455.0C613.3,459.1 609.6,461.6 604.3,461.1C599.0,460.6 590.1,457.4 585.0,452.0C579.9,446.6 572.2,435.5 573.9,428.9Z"/><path d="M696.4,404.9C696.4,398.9 700.8,396.0 707.5,396.6C714.2,397.2 730.0,406.0 736.9,408.6C743.8,411.2 747.7,408.6 748.9,412.3C750.1,416.0 748.8,425.3 744.3,430.7C739.8,436.1 728.3,444.2 722.2,444.5C716.1,444.8 711.8,439.1 707.5,432.5C703.2,425.9 696.4,410.9 696.4,404.9Z"/><path d="M69.8,545.3C67.9,540.3 73.9,534.6 79.2,530.2C84.5,525.8 94.0,518.4 101.8,519.0C109.6,519.6 124.3,528.7 126.2,534.0C128.1,539.3 119.0,546.6 113.1,551.0C107.1,555.4 97.7,561.4 90.5,560.4C83.3,559.4 71.7,550.3 69.8,545.3Z"/><path d="M211.0,534.0C212.3,527.7 217.9,517.1 222.3,513.3C226.7,509.5 231.7,508.6 237.3,511.4C242.9,514.2 253.6,523.6 256.1,530.2C258.6,536.8 256.8,546.5 252.4,551.0C248.0,555.5 236.1,557.3 229.8,557.3C223.5,557.3 217.8,554.9 214.7,551.0C211.6,547.1 209.7,540.3 211.0,534.0Z"/><path d="M333.3,530.2C332.9,525.0 335.9,519.2 340.0,516.0C344.1,512.8 351.5,510.7 357.8,510.7C364.1,510.7 373.5,513.4 378.0,516.0C382.5,518.6 384.9,521.7 384.9,526.5C384.9,531.3 381.3,540.6 378.0,545.0C374.7,549.4 371.2,552.4 365.3,552.8C359.4,553.2 348.0,551.0 342.7,547.2C337.4,543.4 333.8,535.4 333.3,530.2Z"/><path d="M462.5,522.7C462.5,518.0 470.0,510.1 476.4,509.5C482.8,508.9 494.8,514.6 500.9,519.0C507.0,523.4 513.2,531.2 512.9,535.9C512.6,540.6 505.1,546.9 499.0,547.2C492.9,547.5 482.5,541.9 476.4,537.8C470.3,533.7 462.5,527.4 462.5,522.7Z"/><path d="M579.9,517.1C578.3,511.3 581.5,507.2 587.5,506.9C593.5,506.6 608.8,510.7 615.7,515.2C622.6,519.7 627.9,528.2 628.9,534.0C629.9,539.8 624.8,546.7 622.0,550.0C619.2,553.3 616.2,555.0 612.0,553.6C607.8,552.2 602.2,547.6 596.9,541.5C591.5,535.4 581.5,522.9 579.9,517.1Z"/><path d="M704.2,515.2C706.1,511.6 715.9,504.3 723.0,504.6C730.1,504.9 743.9,513.2 746.7,517.1C749.5,521.0 743.3,525.8 740.0,528.0C736.7,530.2 731.5,530.5 726.8,530.2C722.1,530.0 715.5,529.0 711.7,526.5C707.9,524.0 702.3,518.9 704.2,515.2Z"/></clipPath>
<rect x="34" y="230" width="752" height="360" filter="url(#tumtex)" clip-path="url(#alltum)" opacity="0.6"/>
<text x="791.3" y="349.7" font-size="50" fill="#231815" text-anchor="start" font-weight="normal" font-family="'Liberation Sans', Arial, sans-serif">M (0.5mg/kg)</text>
<text x="791.3" y="459.7" font-size="50" fill="#231815" text-anchor="start" font-weight="normal" font-family="'Liberation Sans', Arial, sans-serif">Control</text>
<text x="791.3" y="569.6" font-size="50" fill="#231815" text-anchor="start" font-weight="normal" font-family="'Liberation Sans', Arial, sans-serif">M (5mg/kg)</text>
<text x="1199.5" y="96.3" font-size="69" fill="#231815" text-anchor="start" font-weight="bold" font-family="'Liberation Sans', Arial, sans-serif">b</text>
<polyline points="1325.2,73.5 1325.2,595.6 1832.5,595.6" stroke="#333" stroke-width="2.2" fill="none" stroke-linejoin="round"/>
<line x1="1313.2" y1="588.0" x2="1325.2" y2="588.0" stroke="#2a2a2a" stroke-width="2.2"/>
<text x="1306.9" y="604.9" font-size="50" fill="#000" text-anchor="end" font-family="'Liberation Sans', Arial, sans-serif" style="font-kerning:none">0</text>
<line x1="1313.2" y1="454.9" x2="1325.2" y2="454.9" stroke="#2a2a2a" stroke-width="2.2"/>
<text x="1306.9" y="473.8" font-size="50" fill="#000" text-anchor="end" font-family="'Liberation Sans', Arial, sans-serif" style="font-kerning:none">200</text>
<line x1="1313.2" y1="321.8" x2="1325.2" y2="321.8" stroke="#2a2a2a" stroke-width="2.2"/>
<text x="1306.9" y="342.6" font-size="50" fill="#000" text-anchor="end" font-family="'Liberation Sans', Arial, sans-serif" style="font-kerning:none">400</text>
<line x1="1313.2" y1="188.7" x2="1325.2" y2="188.7" stroke="#2a2a2a" stroke-width="2.2"/>
<text x="1306.9" y="212.2" font-size="50" fill="#000" text-anchor="end" font-family="'Liberation Sans', Arial, sans-serif" style="font-kerning:none">600</text>
<line x1="1366.9" y1="595.6" x2="1366.9" y2="607.5" stroke="#333" stroke-width="2.2"/>
<line x1="1437.5" y1="595.6" x2="1437.5" y2="607.5" stroke="#333" stroke-width="2.2"/>
<line x1="1507.8" y1="595.6" x2="1507.8" y2="607.5" stroke="#333" stroke-width="2.2"/>
<line x1="1578.4" y1="595.6" x2="1578.4" y2="607.5" stroke="#333" stroke-width="2.2"/>
<line x1="1649.0" y1="595.6" x2="1649.0" y2="607.5" stroke="#333" stroke-width="2.2"/>
<line x1="1719.2" y1="595.6" x2="1719.2" y2="607.5" stroke="#333" stroke-width="2.2"/>
<line x1="1789.8" y1="595.6" x2="1789.8" y2="607.5" stroke="#333" stroke-width="2.2"/>
<text x="1350.6" y="651.6" font-size="50" fill="#000" text-anchor="start" font-family="'Liberation Sans', Arial, sans-serif" style="font-kerning:none">7</text>
<text x="1397.4" y="651.6" font-size="50" fill="#000" text-anchor="start" font-family="'Liberation Sans', Arial, sans-serif" style="font-kerning:none">11</text>
<rect x="1400.21" y="647" width="9.61" height="6" fill="#fff"/>
<rect x="1414.54" y="647" width="9.22" height="6" fill="#fff"/>
<rect x="1428.02" y="647" width="9.61" height="6" fill="#fff"/>
<rect x="1442.35" y="647" width="9.22" height="6" fill="#fff"/>
<text x="1470.4" y="651.6" font-size="50" fill="#000" text-anchor="start" font-family="'Liberation Sans', Arial, sans-serif" style="font-kerning:none">15</text>
<rect x="1473.21" y="647" width="9.61" height="6" fill="#fff"/>
<rect x="1487.54" y="647" width="9.22" height="6" fill="#fff"/>
<text x="1545.6" y="651.6" font-size="50" fill="#000" text-anchor="start" font-family="'Liberation Sans', Arial, sans-serif" style="font-kerning:none">19</text>
<rect x="1548.41" y="647" width="9.61" height="6" fill="#fff"/>
<rect x="1562.74" y="647" width="9.22" height="6" fill="#fff"/>
<text x="1617.0" y="651.6" font-size="50" fill="#000" text-anchor="start" font-family="'Liberation Sans', Arial, sans-serif" style="font-kerning:none">23</text>
<text x="1690.4" y="651.6" font-size="50" fill="#000" text-anchor="start" font-family="'Liberation Sans', Arial, sans-serif" style="font-kerning:none">27</text>
<text x="1765.6" y="651.6" font-size="50" fill="#000" text-anchor="start" font-family="'Liberation Sans', Arial, sans-serif" style="font-kerning:none">31</text>
<rect x="1796.22" y="647" width="9.61" height="6" fill="#fff"/>
<rect x="1810.55" y="647" width="9.22" height="6" fill="#fff"/>
<text x="1472.3" y="692.0" font-size="50" fill="#231815" text-anchor="start" font-weight="normal" font-family="'Liberation Sans', Arial, sans-serif">Time (days)</text>
<text x="0" y="0" font-size="49.7" fill="#231815" font-family="'Liberation Sans', Arial, sans-serif" transform="translate(1212.4 584.8) rotate(-90)">Tumor Volume (mm<tspan font-size="30" dy="-18">3</tspan><tspan dy="18">)</tspan></text>
<polyline points="1366.9,580.9 1437.5,577.2 1507.8,574.0 1578.4,567.8 1649.0,560.5 1719.2,552.2 1789.8,536.8" stroke="#000" stroke-width="2.2" fill="none"/>
<polyline points="1366.9,580.0 1437.5,572.7 1507.8,562.9 1578.4,540.0 1649.0,505.6 1719.2,469.5 1789.8,392.1" stroke="#000" stroke-width="2.2" fill="none"/>
<polyline points="1366.9,580.1 1437.5,567.0 1507.8,540.0 1578.4,474.5 1649.0,399.3 1719.2,287.2 1789.8,138.1" stroke="#000" stroke-width="2.2" fill="none"/>
<line x1="1578.4" y1="461.4" x2="1578.4" y2="487.2" stroke="#333" stroke-width="2.2"/>
<line x1="1571.4" y1="461.4" x2="1585.4" y2="461.4" stroke="#333" stroke-width="2.2"/>
<line x1="1571.4" y1="487.2" x2="1585.4" y2="487.2" stroke="#333" stroke-width="2.2"/>
<line x1="1649.0" y1="378.0" x2="1649.0" y2="420.5" stroke="#333" stroke-width="2.2"/>
<line x1="1642.0" y1="378.0" x2="1656.0" y2="378.0" stroke="#333" stroke-width="2.2"/>
<line x1="1642.0" y1="420.5" x2="1656.0" y2="420.5" stroke="#333" stroke-width="2.2"/>
<line x1="1719.2" y1="252.7" x2="1719.2" y2="321.4" stroke="#333" stroke-width="2.2"/>
<line x1="1712.2" y1="252.7" x2="1726.2" y2="252.7" stroke="#333" stroke-width="2.2"/>
<line x1="1712.2" y1="321.4" x2="1726.2" y2="321.4" stroke="#333" stroke-width="2.2"/>
<line x1="1789.8" y1="88.8" x2="1789.8" y2="187.5" stroke="#333" stroke-width="2.2"/>
<line x1="1782.8" y1="88.8" x2="1796.8" y2="88.8" stroke="#333" stroke-width="2.2"/>
<line x1="1782.8" y1="187.5" x2="1796.8" y2="187.5" stroke="#333" stroke-width="2.2"/>
<line x1="1719.2" y1="461.4" x2="1719.2" y2="479.7" stroke="#333" stroke-width="2.2"/>
<line x1="1712.2" y1="461.4" x2="1726.2" y2="461.4" stroke="#333" stroke-width="2.2"/>
<line x1="1712.2" y1="479.7" x2="1726.2" y2="479.7" stroke="#333" stroke-width="2.2"/>
<line x1="1789.8" y1="383.5" x2="1789.8" y2="401.0" stroke="#333" stroke-width="2.2"/>
<line x1="1782.8" y1="383.5" x2="1796.8" y2="383.5" stroke="#333" stroke-width="2.2"/>
<line x1="1782.8" y1="401.0" x2="1796.8" y2="401.0" stroke="#333" stroke-width="2.2"/>
<path d="M1358.7,580.9L1366.9,572.7L1375.1,580.9L1366.9,589.1Z" fill="#000"/>
<path d="M1429.3,577.2L1437.5,569.0L1445.7,577.2L1437.5,585.4Z" fill="#000"/>
<path d="M1499.6,574.0L1507.8,565.8L1516.0,574.0L1507.8,582.2Z" fill="#000"/>
<path d="M1570.2,567.8L1578.4,559.6L1586.6,567.8L1578.4,576.0Z" fill="#000"/>
<path d="M1640.8,560.5L1649.0,552.3L1657.2,560.5L1649.0,568.7Z" fill="#000"/>
<path d="M1711.0,552.2L1719.2,544.0L1727.4,552.2L1719.2,560.4Z" fill="#000"/>
<path d="M1781.6,536.8L1789.8,528.6L1798.0,536.8L1789.8,545.0Z" fill="#000"/>
<rect x="1360.6" y="573.7" width="12.6" height="12.6" fill="#000"/>
<rect x="1431.2" y="566.4" width="12.6" height="12.6" fill="#000"/>
<rect x="1501.5" y="556.6" width="12.6" height="12.6" fill="#000"/>
<rect x="1572.1" y="533.7" width="12.6" height="12.6" fill="#000"/>
<rect x="1642.7" y="499.3" width="12.6" height="12.6" fill="#000"/>
<rect x="1712.9" y="463.2" width="12.6" height="12.6" fill="#000"/>
<rect x="1783.5" y="385.8" width="12.6" height="12.6" fill="#000"/>
<circle cx="1366.9" cy="580.1" r="6.8" fill="#000" stroke="none" stroke-width="0"/>
<circle cx="1437.5" cy="567.0" r="6.8" fill="#000" stroke="none" stroke-width="0"/>
<circle cx="1507.8" cy="540.0" r="6.8" fill="#000" stroke="none" stroke-width="0"/>
<circle cx="1578.4" cy="474.5" r="6.8" fill="#000" stroke="none" stroke-width="0"/>
<circle cx="1649.0" cy="399.3" r="6.8" fill="#000" stroke="none" stroke-width="0"/>
<circle cx="1719.2" cy="287.2" r="6.8" fill="#000" stroke="none" stroke-width="0"/>
<circle cx="1789.8" cy="138.1" r="6.8" fill="#000" stroke="none" stroke-width="0"/>
<line x1="1369.4" y1="116.9" x2="1393.0" y2="116.9" stroke="#000" stroke-width="2.2"/>
<circle cx="1381.3" cy="116.9" r="6.0" fill="#000" stroke="none" stroke-width="0"/>
<line x1="1369.4" y1="175.2" x2="1393.0" y2="175.2" stroke="#000" stroke-width="2.2"/>
<rect x="1375.1" y="169.0" width="12.4" height="12.4" fill="#000"/>
<line x1="1369.4" y1="234.3" x2="1393.0" y2="234.3" stroke="#000" stroke-width="2.2"/>
<path d="M1373.8,234.3L1381.3,226.3L1388.8,234.3L1381.3,242.3Z" fill="#000"/>
<text x="1404.0" y="138.0" font-size="50" fill="#231815" text-anchor="start" font-weight="normal" font-family="'Liberation Sans', Arial, sans-serif">M (0.5mg/kg)</text>
<text x="1404.0" y="194.0" font-size="50" fill="#231815" text-anchor="start" font-weight="normal" font-family="'Liberation Sans', Arial, sans-serif">Control</text>
<text x="1404.0" y="250.4" font-size="50" fill="#231815" text-anchor="start" font-weight="normal" font-family="'Liberation Sans', Arial, sans-serif">M (5mg/kg)</text>
<polyline points="1810.5,132.7 1828.0,132.7 1828.0,386.9 1810.5,386.9" stroke="#4a4140" stroke-width="1.8" fill="none"/>
<polyline points="1810.5,393.3 1828.0,393.3 1828.0,537.3 1810.5,537.3" stroke="#4a4140" stroke-width="1.8" fill="none"/>
<text x="0" y="0" font-size="43" letter-spacing="0.8" fill="#231815" font-family="'Liberation Sans', Arial, sans-serif" text-anchor="middle" transform="translate(1821.5 268.7) rotate(90)">***</text>
<text x="0" y="0" font-size="43" letter-spacing="0.8" fill="#231815" font-family="'Liberation Sans', Arial, sans-serif" text-anchor="middle" transform="translate(1821.5 465.6) rotate(90)">**</text>
<text x="52.5" y="826.0" font-size="69" fill="#231815" text-anchor="start" font-weight="bold" font-family="'Liberation Sans', Arial, sans-serif">c</text>
<polyline points="228.4,912.8 228.4,1344.0 633.0,1344.0" stroke="#444" stroke-width="2.5" fill="none"/>
<line x1="219.3" y1="920.7" x2="228.4" y2="920.7" stroke="#444" stroke-width="2.2"/>
<text x="204.0" y="935.5" font-size="50" fill="#000" text-anchor="end" font-family="'Liberation Sans', Arial, sans-serif" style="font-kerning:none">0.5</text>
<line x1="219.3" y1="1017.0" x2="228.4" y2="1017.0" stroke="#444" stroke-width="2.2"/>
<text x="204.0" y="1033.3" font-size="50" fill="#000" text-anchor="end" font-family="'Liberation Sans', Arial, sans-serif" style="font-kerning:none">0.4</text>
<line x1="219.3" y1="1113.0" x2="228.4" y2="1113.0" stroke="#444" stroke-width="2.2"/>
<text x="204.0" y="1131.3" font-size="50" fill="#000" text-anchor="end" font-family="'Liberation Sans', Arial, sans-serif" style="font-kerning:none">0.3</text>
<line x1="219.3" y1="1209.3" x2="228.4" y2="1209.3" stroke="#444" stroke-width="2.2"/>
<text x="204.0" y="1228.6" font-size="50" fill="#000" text-anchor="end" font-family="'Liberation Sans', Arial, sans-serif" style="font-kerning:none">0.2</text>
<line x1="219.3" y1="1305.1" x2="228.4" y2="1305.1" stroke="#444" stroke-width="2.2"/>
<text x="204.0" y="1327.5" font-size="50" fill="#000" text-anchor="end" font-family="'Liberation Sans', Arial, sans-serif" style="font-kerning:none">0.1</text>
<rect x="179.00" y="1323" width="9.61" height="6" fill="#fff"/>
<rect x="193.33" y="1323" width="9.22" height="6" fill="#fff"/>
<line x1="304.4" y1="1344.0" x2="304.4" y2="1352.5" stroke="#444" stroke-width="2.2"/>
<line x1="430.8" y1="1344.0" x2="430.8" y2="1352.5" stroke="#444" stroke-width="2.2"/>
<line x1="557.1" y1="1344.0" x2="557.1" y2="1352.5" stroke="#444" stroke-width="2.2"/>
<text x="0" y="0" font-size="49.9" fill="#231815" font-family="'Liberation Sans', Arial, sans-serif" transform="translate(96.9 1296.6) rotate(-90)">Tumor Weight (g)</text>
<circle cx="303.0" cy="951.6" r="6.2" fill="#000" stroke="none" stroke-width="0"/>
<circle cx="294.1" cy="969.9" r="6.2" fill="#000" stroke="none" stroke-width="0"/>
<circle cx="296.3" cy="985.1" r="6.2" fill="#000" stroke="none" stroke-width="0"/>
<circle cx="304.6" cy="1044.7" r="6.2" fill="#000" stroke="none" stroke-width="0"/>
<circle cx="311.6" cy="1064.3" r="6.2" fill="#000" stroke="none" stroke-width="0"/>
<circle cx="315.5" cy="1109.2" r="6.2" fill="#000" stroke="none" stroke-width="0"/>
<line x1="304.3" y1="995.8" x2="304.3" y2="1044.5" stroke="#000" stroke-width="2.2"/>
<line x1="298.3" y1="995.8" x2="310.3" y2="995.8" stroke="#000" stroke-width="2.2"/>
<line x1="297.8" y1="1044.5" x2="310.8" y2="1044.5" stroke="#000" stroke-width="2.2"/>
<line x1="430.7" y1="1158.0" x2="430.7" y2="1172.1" stroke="#000" stroke-width="2.2"/>
<line x1="424.7" y1="1158.0" x2="436.7" y2="1158.0" stroke="#000" stroke-width="2.2"/>
<line x1="424.2" y1="1172.1" x2="437.2" y2="1172.1" stroke="#000" stroke-width="2.2"/>
<line x1="557.1" y1="1240.0" x2="557.1" y2="1270.1" stroke="#000" stroke-width="2.2"/>
<line x1="551.1" y1="1240.0" x2="563.1" y2="1240.0" stroke="#000" stroke-width="2.2"/>
<line x1="550.6" y1="1270.1" x2="563.6" y2="1270.1" stroke="#000" stroke-width="2.2"/>
<path d="M416.7,1153.0L431.3,1153.0L424.0,1140.0Z" fill="#000"/>
<path d="M427.9,1155.2L442.5,1155.2L435.2,1142.2Z" fill="#000"/>
<path d="M427.7,1162.0L442.3,1162.0L435.0,1149.0Z" fill="#000"/>
<path d="M413.3,1193.5L427.9,1193.5L420.6,1180.5Z" fill="#000"/>
<path d="M430.8,1190.6L445.4,1190.6L438.1,1177.6Z" fill="#000"/>
<path d="M547.4,1227.5L562.0,1227.5L554.7,1240.5Z" fill="#000"/>
<path d="M557.7,1231.5L572.3,1231.5L565.0,1244.5Z" fill="#000"/>
<path d="M551.2,1236.5L565.8,1236.5L558.5,1249.5Z" fill="#000"/>
<path d="M542.1,1327.7L556.7,1327.7L549.4,1340.7Z" fill="#000"/>
<line x1="290.6" y1="1020.8" x2="318.0" y2="1020.8" stroke="#000" stroke-width="2.2"/>
<circle cx="304.3" cy="1020.8" r="4.6" fill="#fff" stroke="#000" stroke-width="2.0"/>
<line x1="417.1" y1="1164.9" x2="444.3" y2="1164.9" stroke="#000" stroke-width="2.2"/>
<circle cx="430.7" cy="1164.9" r="4.6" fill="#fff" stroke="#000" stroke-width="2.0"/>
<line x1="543.9" y1="1254.6" x2="570.3" y2="1254.6" stroke="#000" stroke-width="2.2"/>
<circle cx="557.1" cy="1254.6" r="4.6" fill="#fff" stroke="#000" stroke-width="2.0"/>
<polyline points="304.3,938.2 304.3,932.1 429.7,932.1 429.7,938.2" stroke="#000" stroke-width="2.2" fill="none"/>
<polyline points="440.2,968.9 440.2,962.6 565.9,962.6 565.9,968.9" stroke="#000" stroke-width="2.2" fill="none"/>
<text x="366.8" y="936.0" font-size="38" fill="#000" text-anchor="middle" font-weight="normal" font-family="'Liberation Sans', Arial, sans-serif">**</text>
<text x="506.0" y="966.0" font-size="38" fill="#000" text-anchor="middle" font-weight="normal" font-family="'Liberation Sans', Arial, sans-serif">*</text>
<text x="330.4" y="1384.3" font-size="50" fill="#231815" text-anchor="end" font-weight="normal" font-family="'Liberation Sans', Arial, sans-serif" transform="rotate(-45 330.4 1384.3)">M (0.5mg/kg)</text>
<text x="440.2" y="1386.3" font-size="50" fill="#231815" text-anchor="end" font-weight="normal" font-family="'Liberation Sans', Arial, sans-serif" transform="rotate(-45 440.2 1386.3)">Control</text>
<text x="561.0" y="1384.3" font-size="50" fill="#231815" text-anchor="end" font-weight="normal" font-family="'Liberation Sans', Arial, sans-serif" transform="rotate(-45 561.0 1384.3)">M (5mg/kg)</text>
<text x="739.5" y="825.5" font-size="69" fill="#231815" text-anchor="start" font-weight="bold" font-family="'Liberation Sans', Arial, sans-serif">d</text>
<rect x="867.4" y="979.3" width="103.5" height="364.9" fill="#fafbfd" stroke="#161616" stroke-width="2.2"/>
<rect x="996.6" y="966.1" width="102.9" height="378.1" fill="#675b58" stroke="#161616" stroke-width="2.2"/>
<rect x="1124.8" y="969.3" width="104.8" height="374.9" fill="#0a0a0a" stroke="#161616" stroke-width="2.2"/>
<polyline points="841.6,909.6 841.6,1344.2 1254.0,1344.2" stroke="#444" stroke-width="2.5" fill="none"/>
<line x1="831.5" y1="924.5" x2="841.6" y2="924.5" stroke="#444" stroke-width="2.2"/>
<text x="822.5" y="945.2" font-size="50" fill="#000" text-anchor="end" font-family="'Liberation Sans', Arial, sans-serif" style="font-kerning:none">20</text>
<line x1="831.5" y1="1029.5" x2="841.6" y2="1029.5" stroke="#444" stroke-width="2.2"/>
<text x="822.5" y="1048.7" font-size="50" fill="#000" text-anchor="end" font-family="'Liberation Sans', Arial, sans-serif" style="font-kerning:none">15</text>
<rect x="769.69" y="1044" width="9.61" height="6" fill="#fff"/>
<rect x="784.03" y="1044" width="9.22" height="6" fill="#fff"/>
<line x1="831.5" y1="1133.8" x2="841.6" y2="1133.8" stroke="#444" stroke-width="2.2"/>
<text x="822.5" y="1152.3" font-size="50" fill="#000" text-anchor="end" font-family="'Liberation Sans', Arial, sans-serif" style="font-kerning:none">10</text>
<rect x="769.69" y="1148" width="9.61" height="6" fill="#fff"/>
<rect x="784.03" y="1148" width="9.22" height="6" fill="#fff"/>
<line x1="831.5" y1="1239.2" x2="841.6" y2="1239.2" stroke="#444" stroke-width="2.2"/>
<text x="822.5" y="1256.1" font-size="50" fill="#000" text-anchor="end" font-family="'Liberation Sans', Arial, sans-serif" style="font-kerning:none">5</text>
<line x1="831.5" y1="1343.8" x2="841.6" y2="1343.8" stroke="#444" stroke-width="2.2"/>
<text x="822.5" y="1360.1" font-size="50" fill="#000" text-anchor="end" font-family="'Liberation Sans', Arial, sans-serif" style="font-kerning:none">0</text>
<line x1="918.8" y1="1344.2" x2="918.8" y2="1353.7" stroke="#444" stroke-width="2.2"/>
<line x1="1048.0" y1="1344.2" x2="1048.0" y2="1353.7" stroke="#444" stroke-width="2.2"/>
<line x1="1176.8" y1="1344.2" x2="1176.8" y2="1353.7" stroke="#444" stroke-width="2.2"/>
<text x="0" y="0" font-size="49.7" fill="#231815" font-family="'Liberation Sans', Arial, sans-serif" transform="translate(738.2 1286.7) rotate(-90)">Body Weight (g)</text>
<text x="945.8" y="1384.3" font-size="50" fill="#231815" text-anchor="end" font-weight="normal" font-family="'Liberation Sans', Arial, sans-serif" transform="rotate(-45 945.8 1384.3)">M (0.5mg/kg)</text>
<text x="1054.6" y="1386.3" font-size="50" fill="#231815" text-anchor="end" font-weight="normal" font-family="'Liberation Sans', Arial, sans-serif" transform="rotate(-45 1054.6 1386.3)">Control</text>
<text x="1186.0" y="1384.3" font-size="50" fill="#231815" text-anchor="end" font-weight="normal" font-family="'Liberation Sans', Arial, sans-serif" transform="rotate(-45 1186.0 1384.3)">M (5mg/kg)</text>
<line x1="918.8" y1="970.0" x2="918.8" y2="978.8" stroke="#1a1a1a" stroke-width="2.0"/>
<line x1="912.8" y1="970.0" x2="924.8" y2="970.0" stroke="#1a1a1a" stroke-width="2.0"/>
<line x1="1048.3" y1="956.0" x2="1048.3" y2="966.0" stroke="#1a1a1a" stroke-width="2.0"/>
<line x1="1042.3" y1="956.0" x2="1054.3" y2="956.0" stroke="#1a1a1a" stroke-width="2.0"/>
<line x1="1176.5" y1="959.4" x2="1176.5" y2="969.0" stroke="#1a1a1a" stroke-width="2.0"/>
<line x1="1170.5" y1="959.4" x2="1182.5" y2="959.4" stroke="#1a1a1a" stroke-width="2.0"/>
<circle cx="907.4" cy="947.2" r="4.7" fill="#fff" stroke="#111" stroke-width="2.2"/>
<circle cx="907.4" cy="961.9" r="4.7" fill="#fff" stroke="#111" stroke-width="2.2"/>
<circle cx="920.2" cy="980.5" r="4.7" fill="#fff" stroke="#111" stroke-width="2.2"/>
<circle cx="928.4" cy="985.4" r="4.7" fill="#fff" stroke="#111" stroke-width="2.2"/>
<circle cx="907.0" cy="997.8" r="4.7" fill="#fff" stroke="#111" stroke-width="2.2"/>
<circle cx="920.2" cy="1001.3" r="4.7" fill="#fff" stroke="#111" stroke-width="2.2"/>
<circle cx="1046.2" cy="933.9" r="4.7" fill="#6a5e5b" stroke="#111" stroke-width="2.2"/>
<circle cx="1043.8" cy="940.0" r="4.7" fill="#6a5e5b" stroke="#111" stroke-width="2.2"/>
<circle cx="1048.9" cy="951.9" r="4.7" fill="#6a5e5b" stroke="#111" stroke-width="2.2"/>
<circle cx="1035.0" cy="988.6" r="4.7" fill="#6a5e5b" stroke="#111" stroke-width="2.2"/>
<circle cx="1055.8" cy="982.9" r="4.7" fill="#6a5e5b" stroke="#111" stroke-width="2.2"/>
<circle cx="1060.1" cy="996.8" r="4.7" fill="#6a5e5b" stroke="#111" stroke-width="2.2"/>
<circle cx="1187.1" cy="922.3" r="6.0" fill="#000" stroke="none" stroke-width="0"/>
<circle cx="1188.0" cy="965.5" r="6.0" fill="#000" stroke="none" stroke-width="0"/>
<circle cx="1192.5" cy="968.5" r="6.0" fill="#000" stroke="none" stroke-width="0"/>
<polyline points="918.6,920.7 918.6,909.0 1048.3,909.0 1048.3,920.7" stroke="#4a4140" stroke-width="2.0" fill="none"/>
<polyline points="1047.9,899.2 1047.9,887.0 1177.3,887.0 1177.3,899.2" stroke="#4a4140" stroke-width="2.0" fill="none"/>
<text x="985.0" y="903.5" font-size="41" fill="#231815" text-anchor="middle" font-weight="normal" font-family="'Liberation Sans', Arial, sans-serif">ns</text>
<text x="1117.4" y="881.9" font-size="41" fill="#231815" text-anchor="middle" font-weight="normal" font-family="'Liberation Sans', Arial, sans-serif">ns</text>
<text x="1438.6" y="825.5" font-size="69" fill="#231815" text-anchor="start" font-weight="bold" font-family="'Liberation Sans', Arial, sans-serif">e</text>
<rect x="1513.8" y="930.9" width="104.3" height="411.7" fill="#f7f7f7" stroke="#161616" stroke-width="2.2"/>
<rect x="1644.4" y="948.9" width="105.0" height="393.7" fill="#675b58" stroke="#161616" stroke-width="2.2"/>
<rect x="1774.9" y="961.1" width="105.5" height="381.5" fill="#0a0a0a" stroke="#161616" stroke-width="2.2"/>
<polyline points="1487.3,901.7 1487.3,1342.6 1905.9,1342.6" stroke="#444" stroke-width="2.5" fill="none"/>
<line x1="1477.0" y1="925.6" x2="1487.3" y2="925.6" stroke="#444" stroke-width="2.2"/>
<text x="1469.8" y="937.8" font-size="50" fill="#000" text-anchor="end" font-family="'Liberation Sans', Arial, sans-serif" style="font-kerning:none">20</text>
<line x1="1477.0" y1="1030.2" x2="1487.3" y2="1030.2" stroke="#444" stroke-width="2.2"/>
<text x="1469.8" y="1043.7" font-size="50" fill="#000" text-anchor="end" font-family="'Liberation Sans', Arial, sans-serif" style="font-kerning:none">15</text>
<rect x="1416.99" y="1039" width="9.61" height="6" fill="#fff"/>
<rect x="1431.33" y="1039" width="9.22" height="6" fill="#fff"/>
<line x1="1477.0" y1="1133.8" x2="1487.3" y2="1133.8" stroke="#444" stroke-width="2.2"/>
<text x="1469.8" y="1148.7" font-size="50" fill="#000" text-anchor="end" font-family="'Liberation Sans', Arial, sans-serif" style="font-kerning:none">10</text>
<rect x="1416.99" y="1144" width="9.61" height="6" fill="#fff"/>
<rect x="1431.33" y="1144" width="9.22" height="6" fill="#fff"/>
<line x1="1477.0" y1="1238.5" x2="1487.3" y2="1238.5" stroke="#444" stroke-width="2.2"/>
<text x="1469.8" y="1254.5" font-size="50" fill="#000" text-anchor="end" font-family="'Liberation Sans', Arial, sans-serif" style="font-kerning:none">5</text>
<line x1="1477.0" y1="1342.9" x2="1487.3" y2="1342.9" stroke="#444" stroke-width="2.2"/>
<text x="1469.8" y="1359.8" font-size="50" fill="#000" text-anchor="end" font-family="'Liberation Sans', Arial, sans-serif" style="font-kerning:none">0</text>
<line x1="1565.3" y1="1342.6" x2="1565.3" y2="1352.1" stroke="#444" stroke-width="2.2"/>
<line x1="1696.4" y1="1342.6" x2="1696.4" y2="1352.1" stroke="#444" stroke-width="2.2"/>
<line x1="1827.5" y1="1342.6" x2="1827.5" y2="1352.1" stroke="#444" stroke-width="2.2"/>
<text x="0" y="0" font-size="49.7" fill="#231815" font-family="'Liberation Sans', Arial, sans-serif" transform="translate(1390.4 1286.9) rotate(-90)">Body Weight (g)</text>
<text x="1571.4" y="1386.6" font-size="50" fill="#231815" text-anchor="end" font-weight="normal" font-family="'Liberation Sans', Arial, sans-serif" transform="rotate(-45 1571.4 1386.6)">Control</text>
<text x="1712.1" y="1384.4" font-size="50" fill="#231815" text-anchor="end" font-weight="normal" font-family="'Liberation Sans', Arial, sans-serif" transform="rotate(-45 1712.1 1384.4)">M (0.5mg/kg)</text>
<text x="1853.0" y="1384.3" font-size="50" fill="#231815" text-anchor="end" font-weight="normal" font-family="'Liberation Sans', Arial, sans-serif" transform="rotate(-45 1853.0 1384.3)">M (5mg/kg)</text>
<line x1="1565.3" y1="928.0" x2="1565.3" y2="930.9" stroke="#1a1a1a" stroke-width="2.0"/>
<line x1="1559.3" y1="928.0" x2="1571.3" y2="928.0" stroke="#1a1a1a" stroke-width="2.0"/>
<line x1="1696.6" y1="941.0" x2="1696.6" y2="948.9" stroke="#1a1a1a" stroke-width="2.0"/>
<line x1="1690.6" y1="941.0" x2="1702.6" y2="941.0" stroke="#1a1a1a" stroke-width="2.0"/>
<line x1="1828.0" y1="946.2" x2="1828.0" y2="961.1" stroke="#777" stroke-width="2.0"/>
<line x1="1822.0" y1="946.2" x2="1834.0" y2="946.2" stroke="#777" stroke-width="2.0"/>
<circle cx="1561.5" cy="913.9" r="4.7" fill="#fff" stroke="#111" stroke-width="2.2"/>
<circle cx="1552.3" cy="923.1" r="4.7" fill="#fff" stroke="#111" stroke-width="2.2"/>
<circle cx="1565.1" cy="930.9" r="4.7" fill="#fff" stroke="#111" stroke-width="2.2"/>
<circle cx="1570.7" cy="932.9" r="4.7" fill="#fff" stroke="#111" stroke-width="2.2"/>
<circle cx="1561.9" cy="939.7" r="4.7" fill="#fff" stroke="#111" stroke-width="2.2"/>
<circle cx="1573.7" cy="947.2" r="4.7" fill="#fff" stroke="#111" stroke-width="2.2"/>
<circle cx="1710.5" cy="921.3" r="4.7" fill="#6a5e5b" stroke="#111" stroke-width="2.2"/>
<circle cx="1684.6" cy="941.5" r="4.7" fill="#6a5e5b" stroke="#111" stroke-width="2.2"/>
<circle cx="1699.7" cy="940.1" r="4.7" fill="#6a5e5b" stroke="#111" stroke-width="2.2"/>
<circle cx="1691.7" cy="957.8" r="4.7" fill="#6a5e5b" stroke="#111" stroke-width="2.2"/>
<circle cx="1683.0" cy="964.0" r="4.7" fill="#6a5e5b" stroke="#111" stroke-width="2.2"/>
<circle cx="1700.3" cy="965.6" r="4.7" fill="#6a5e5b" stroke="#111" stroke-width="2.2"/>
<circle cx="1818.7" cy="916.6" r="6.0" fill="#000" stroke="none" stroke-width="0"/>
<circle cx="1819.8" cy="931.9" r="6.0" fill="#000" stroke="none" stroke-width="0"/>
<circle cx="1817.7" cy="953.3" r="6.0" fill="#000" stroke="none" stroke-width="0"/>
<circle cx="1841.6" cy="957.8" r="6.0" fill="#000" stroke="none" stroke-width="0"/>
<polyline points="1562.5,848.2 1562.5,835.9 1821.2,835.9 1821.2,848.2" stroke="#4a4140" stroke-width="2.0" fill="none"/>
<polyline points="1562.5,890.0 1562.5,877.8 1692.8,877.8 1692.8,890.0" stroke="#4a4140" stroke-width="2.0" fill="none"/>
<text x="1691.2" y="830.8" font-size="41" fill="#231815" text-anchor="middle" font-weight="normal" font-family="'Liberation Sans', Arial, sans-serif">ns</text>
<text x="1628.5" y="872.7" font-size="41" fill="#231815" text-anchor="middle" font-weight="normal" font-family="'Liberation Sans', Arial, sans-serif">ns</text>
</svg>
</body></html>
